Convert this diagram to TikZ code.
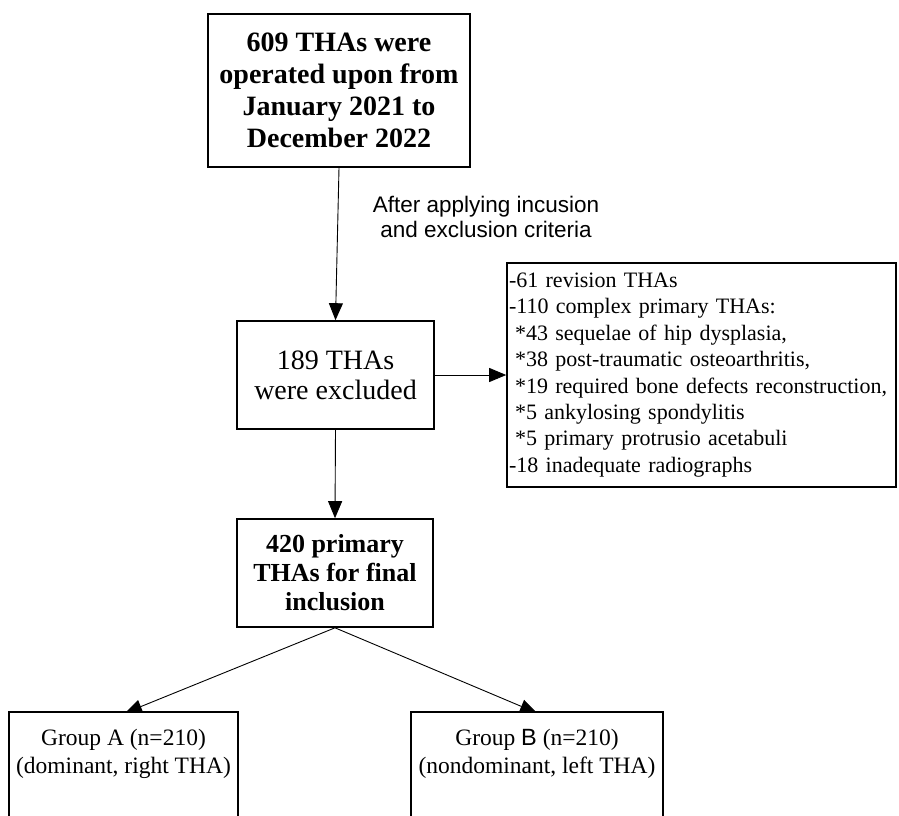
\documentclass[tikz,border=0pt]{standalone}
\usepackage{fontspec}
\setmainfont{Liberation Serif}
\setsansfont{Liberation Sans}
\usetikzlibrary{arrows.meta}
\pgfdeclarelayer{bg}
\pgfsetlayers{bg,main}
\begin{document}
\begin{tikzpicture}[x=1pt,y=-1pt,
  box/.style={draw, line width=1.6pt, fill=white, inner sep=0pt, align=center},
  conn/.style={line width=0.9pt, -{Triangle[length=17pt,width=14pt]}}]
\useasboundingbox (0,0) rectangle (899,816);
\clip (0,0) rectangle (899,816);

\node[box, minimum width=262pt, minimum height=153pt,
      font=\fontsize{28}{32}\selectfont\bfseries] (start) at (339,90.5)
  {609 THAs were\\operated upon from\\January 2021 to\\December 2022};

\node[font=\sffamily\fontsize{22.5}{25}\selectfont, align=center] (crit) at (486,217)
  {After applying incusion\\and exclusion criteria};

\node[box, minimum width=197pt, minimum height=108pt,
      font=\fontsize{28}{30}\selectfont] (excluded) at (335.5,375)
  {189 THAs\\were excluded};

\node[box, minimum width=389pt, minimum height=224pt, text width=385pt,
      align=left, inner xsep=2pt, font=\fontsize{22}{26.4}\selectfont] (reasons) at (701.5,375)
  {-61 revision THAs\\
   -110 complex primary THAs:\\
   \hspace*{6pt}*43 sequelae of hip dysplasia,\\
   \hspace*{6pt}*38 post-traumatic osteoarthritis,\\
   \hspace*{6pt}*19 required bone defects reconstruction,\\
   \hspace*{6pt}*5 ankylosing spondylitis\\
   \hspace*{6pt}*5 primary protrusio acetabuli\\
   -18 inadequate radiographs};

\node[box, minimum width=196pt, minimum height=108pt,
      font=\fontsize{26}{29}\selectfont\bfseries] (included) at (335,573)
  {420 primary\\THAs for final\\inclusion};

\node[box, minimum width=229pt, anchor=north, inner ysep=17pt,
      font=\fontsize{23.5}{28.5}\selectfont] (ga) at (123.5,711)
  {\parbox[t][130pt][t]{225pt}{\centering Group A (n=210)\\(dominant, right THA)}};

\node[box, minimum width=252pt, anchor=north, inner ysep=17pt,
      font=\fontsize{23.5}{28.5}\selectfont] (gb) at (537,711)
  {\parbox[t][130pt][t]{248pt}{\centering Group {\sffamily B} (n=210)\\(nondominant, left THA)}};

\coordinate (tA) at (125,713);
\coordinate (tB) at (537,713);

\begin{pgfonlayer}{bg}
\draw[conn] (start.south) -- (excluded.north);
\draw[conn] (excluded.east) -- (reasons.west);
\draw[conn] (excluded.south) -- (included.north);
\draw[conn] (included.south) -- (tA);
\draw[conn] (included.south) -- (tB);
\end{pgfonlayer}
\end{tikzpicture}
\end{document}
